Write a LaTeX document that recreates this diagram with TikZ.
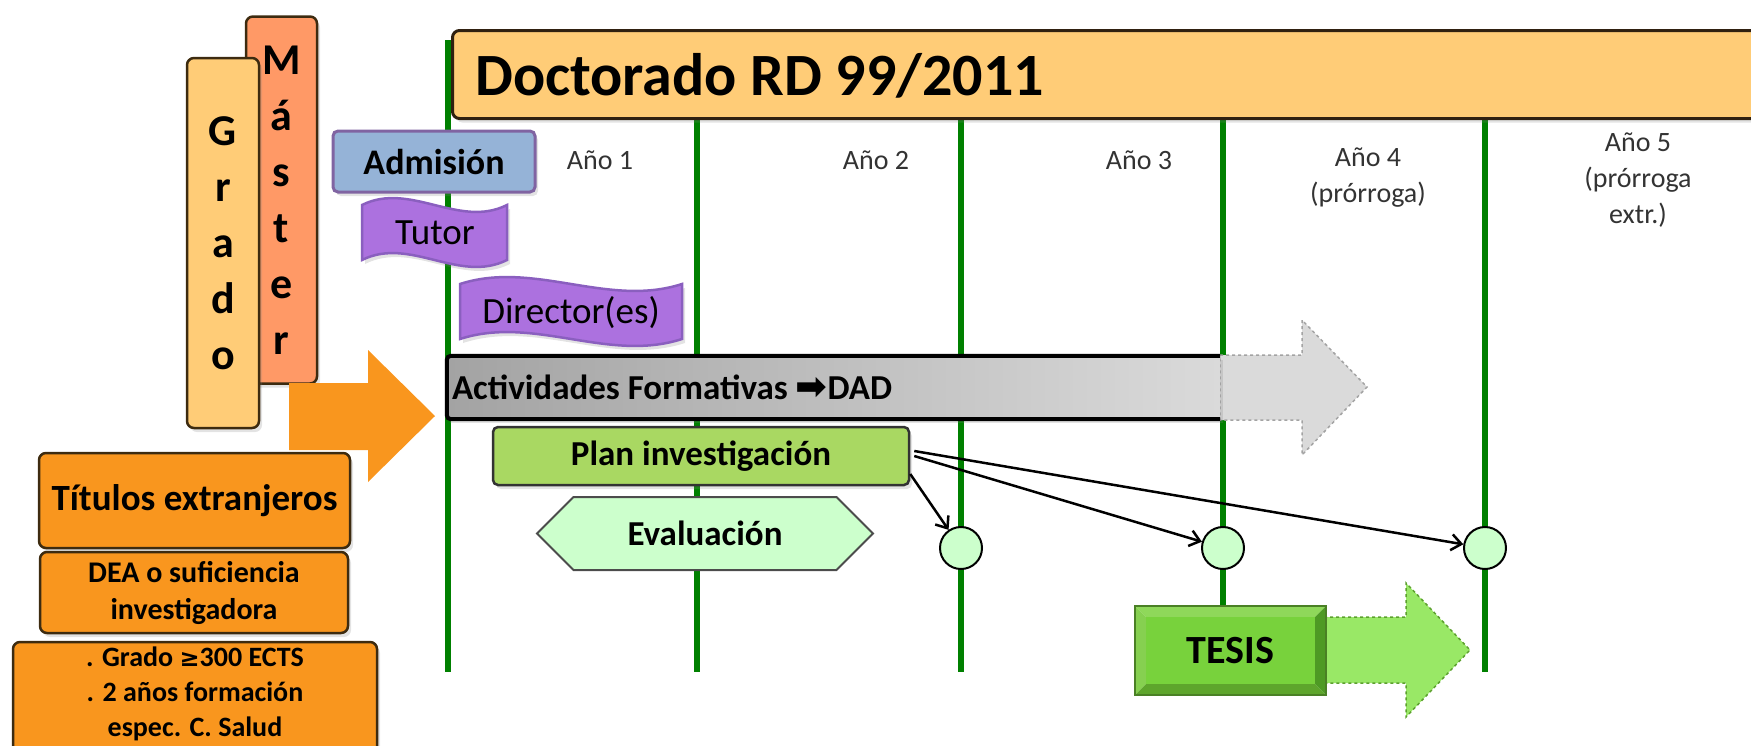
\documentclass[tikz,border=0pt]{standalone}
\usepackage{fontspec}
\setmainfont{Carlito}
\newfontfamily\symfont{DejaVu Sans}
\usetikzlibrary{shadows,shapes.symbols,arrows.meta}

\definecolor{cabecera}{HTML}{FFCC77}
\definecolor{salmon}{HTML}{FF9966}
\definecolor{naranja}{HTML}{F9961E}
\definecolor{bordecafe}{HTML}{3D2B10}
\definecolor{verdelinea}{HTML}{008000}
\definecolor{azuladm}{HTML}{95B3D7}
\definecolor{bordeadm}{HTML}{8064A2}
\definecolor{lila}{HTML}{AC71DF}
\definecolor{bordelila}{HTML}{8A5FBF}
\definecolor{grisosc}{HTML}{A3A3A3}
\definecolor{grisclaro}{HTML}{DADADA}
\definecolor{verdeplan}{HTML}{A9D862}
\definecolor{verdepalido}{HTML}{CCFFCC}
\definecolor{verdeflecha}{HTML}{99E866}
\definecolor{verdeborde}{HTML}{5CA02E}
\definecolor{biselsup}{HTML}{8FD85A}
\definecolor{biselizq}{HTML}{86D050}
\definecolor{biselinf}{HTML}{5EA52C}
\definecolor{biselder}{HTML}{4E9A24}
\definecolor{caratesis}{HTML}{78D23C}

\tikzset{
  caja/.style={draw=bordecafe, line width=2.5pt, rounded corners=7pt, align=center, inner sep=0pt},
  sombra/.style={drop shadow={shadow xshift=3pt, shadow yshift=-4pt, opacity=0.22}},
  letras/.style={font=\fontsize{44}{56}\selectfont\bfseries},
  anio/.style={font=\fontsize{28}{36}\selectfont, align=center, text=black!80},
  linea/.style={verdelinea, line width=6pt},
  ola/.style={fill=lila, draw=bordelila, line width=2.5pt},
  hito/.style={circle, draw=black, line width=2pt, fill=verdepalido, minimum size=42pt, inner sep=0pt},
  flecha/.style={-{Straight Barb[length=10pt,width=16pt]}, line width=2.5pt}
}

\begin{document}
\begin{tikzpicture}[x=1pt, y=-1pt]
\useasboundingbox (0,0) rectangle (1751,745);
\clip (0,0) rectangle (1751,745);

% lineas de los anios
\draw[linea] (448,40) -- (448,672);
\foreach \x in {697,961,1223,1485}
  \draw[linea] (\x,117) -- (\x,672);

% cabecera
\node[caja, sombra, fill=cabecera, draw=black!75!brown, line width=3pt, minimum width=1400pt, minimum height=88pt, anchor=north west] (doct) at (451,29) {};
\node[anchor=base west, inner sep=0pt, font=\fontsize{60}{66}\selectfont\bfseries] (titulo) at (475,95) {Doctorado RD 99/2011};

\node[anio] (a1) at (600,160) {Año 1};
\node[anio] (a2) at (876,160) {Año 2};
\node[anio] (a3) at (1139,160) {Año 3};
\node[anio] (a4) at (1368,178) {Año 4\\(prórroga)};
\node[anio] (a5) at (1638,180) {Año 5\\(prórroga\\extr.)};

% acceso
\node[caja, sombra, fill=salmon, minimum width=71pt, minimum height=367pt, letras] (master) at (281.5,200) {M\\á\\s\\t\\e\\r};
\node[caja, sombra, fill=cabecera, minimum width=72pt, minimum height=370pt, letras] (grado) at (223,243) {G\\r\\a\\d\\o};
\fill[naranja] (289,383) -- (368,383) -- (368,350) -- (435,416) -- (368,482) -- (368,450) -- (289,450) -- cycle;

\node[caja, sombra, fill=naranja, minimum width=311pt, minimum height=95pt, font=\fontsize{37}{44}\selectfont\bfseries] (titulos) at (194.5,500.5) {Títulos extranjeros};
\node[caja, sombra, fill=naranja, minimum width=308pt, minimum height=81pt, font=\fontsize{30}{37}\selectfont\bfseries] (dea) at (194,592.5) {DEA o suficiencia\\investigadora};
\node[caja, sombra, fill=naranja, minimum width=364pt, minimum height=116pt] (requisitos) at (195,700) {};
\node[align=center, inner sep=0pt, font=\fontsize{28}{35}\selectfont\bfseries] (requisitoslbl) at (195,694) {. Grado {\symfont\fontsize{24}{35}\selectfont≥}300 ECTS\\. 2 años formación\\espec. C. Salud};

% admision, tutor, director
\node[caja, sombra, fill=azuladm, draw=bordeadm, line width=3pt, rounded corners=5pt, minimum width=202pt, minimum height=61pt, font=\fontsize{36}{40}\selectfont\bfseries] (admision) at (434,161.5) {Admisión};

\filldraw[ola, sombra] (362,205) .. controls (410,181) and (459,229) .. (507,205) -- (507,260) .. controls (459,284) and (410,236) .. (362,260) -- cycle;
\node[font=\fontsize{37}{40}\selectfont] (tutor) at (435,233) {Tutor};
\filldraw[ola, sombra] (460,284) .. controls (534,260) and (608,308) .. (682,284) -- (682,339) .. controls (608,363) and (534,315) .. (460,339) -- cycle;
\node[font=\fontsize{37}{40}\selectfont] (director) at (571,313) {Director(es)};

% actividades formativas
\filldraw[fill=grisclaro, draw=grisosc, dashed, line width=1.5pt] (1220,355) -- (1302,355) -- (1302,320) -- (1367,387) -- (1302,455) -- (1302,420) -- (1220,420) -- cycle;
\node[sombra, left color=grisosc, right color=grisclaro, minimum width=773pt, minimum height=63pt, inner sep=0pt] (act) at (833.5,387.5) {};
\draw[line width=4pt, rounded corners=4pt] (act.north east) -- (act.north west) -- (act.south west) -- (act.south east);
\node[anchor=west, inner sep=5pt, font=\fontsize{35}{40}\selectfont\bfseries] (actlbl) at (act.west) {Actividades Formativas {\symfont\fontsize{38}{40}\selectfont ➡}DAD};

% plan y evaluacion
\node[caja, sombra, fill=verdeplan, draw=black!80, rounded corners=5pt, minimum width=416pt, minimum height=58pt, font=\fontsize{35}{40}\selectfont\bfseries] (plan) at (701,456) {Plan investigación};
\node[signal, signal to=east and west, signal pointer angle=90, draw=black!70, fill=verdepalido, line width=2pt, minimum width=336pt, minimum height=73pt, inner sep=0pt, font=\fontsize{35}{40}\selectfont\bfseries] (eval) at (705,533.5) {Evaluación};

\node[hito] (c1) at (961,548) {};
\node[hito] (c2) at (1223,548) {};
\node[hito] (c3) at (1485,548) {};

\draw[flecha] ([yshift=-18pt]plan.east) -- (c1);
\draw[flecha] ([xshift=4pt]plan.east) -- (c2);
\draw[flecha] ([xshift=4pt,yshift=5pt]plan.east) -- (c3);

% tesis
\filldraw[fill=verdeflecha, draw=verdeborde, dashed, line width=1.5pt] (1300,617) -- (1406,617) -- (1406,583) -- (1470,650) -- (1406,717) -- (1406,683) -- (1300,683) -- cycle;
\fill[biselsup] (1135,606) -- (1326,606) -- (1315,617) -- (1146,617) -- cycle;
\fill[biselizq] (1135,606) -- (1146,617) -- (1146,684) -- (1135,695) -- cycle;
\fill[biselinf] (1135,695) -- (1326,695) -- (1315,684) -- (1146,684) -- cycle;
\fill[biselder] (1326,606) -- (1326,695) -- (1315,684) -- (1315,617) -- cycle;
\fill[caratesis] (1146,617) rectangle (1315,684);
\node[draw=verdeborde!80!black, line width=1.5pt, minimum width=191pt, minimum height=89pt, inner sep=0pt, font=\fontsize{40}{44}\selectfont\bfseries] (tesis) at (1230.5,650.5) {TESIS};
\end{tikzpicture}
\end{document}
